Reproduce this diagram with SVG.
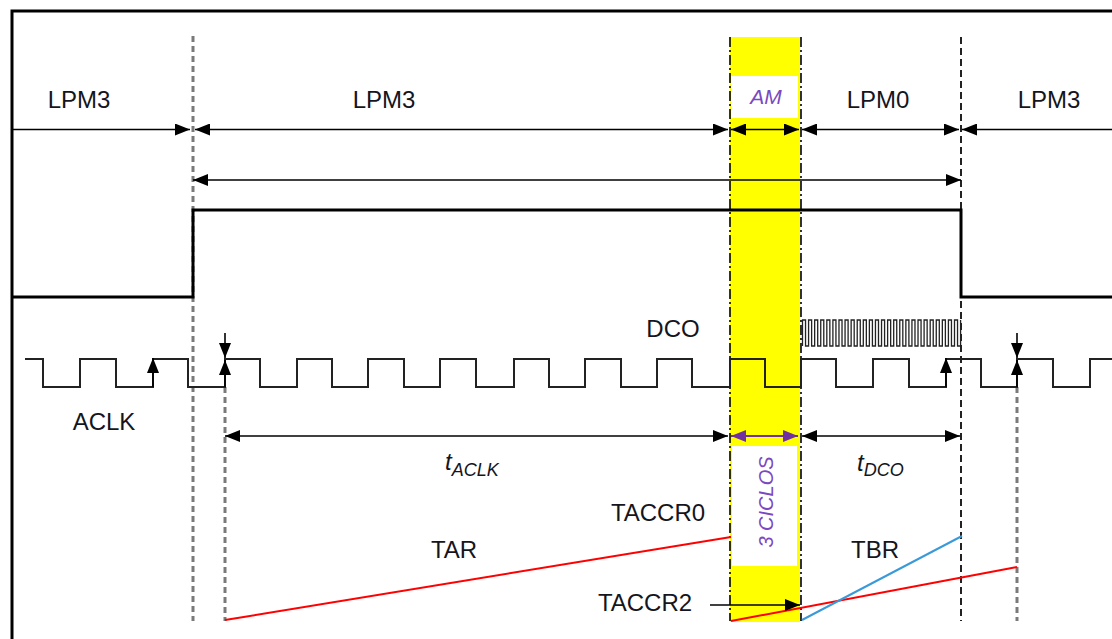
<svg xmlns="http://www.w3.org/2000/svg" width="1112" height="639" viewBox="0 0 1112 639">
<style>
.t{font-family:"Liberation Sans",Arial,sans-serif;font-size:24px;fill:#151520}
.p{font-family:"Liberation Sans",Arial,sans-serif;font-style:italic;fill:#7a48c0}
.it{font-style:italic}
.ar{stroke:#000;stroke-width:1.6;fill:none}
.gd{stroke:#7a7a7a;stroke-width:3;stroke-dasharray:6 4;fill:none}
.bd{stroke:#222;stroke-width:2;stroke-dasharray:7 4;fill:none}
.dd{stroke:#000;stroke-width:1.6;stroke-dasharray:10 3 2 3;fill:none}
.w{stroke:#222;stroke-width:2;fill:none}
</style>
<defs>
<marker id="ah" viewBox="0 0 15 12" markerWidth="15" markerHeight="12" refX="15" refY="6" orient="auto-start-reverse" markerUnits="userSpaceOnUse"><path d="M0,0 L15,6 L0,12 z" fill="#000"/></marker>
<marker id="ap" viewBox="0 0 15 12" markerWidth="15" markerHeight="12" refX="15" refY="6" orient="auto-start-reverse" markerUnits="userSpaceOnUse"><path d="M0,0 L15,6 L0,12 z" fill="#7030a0"/></marker>
</defs>
<rect width="1112" height="639" fill="#fff"/>
<rect x="12" y="11" width="1110" height="650" fill="none" stroke="#000" stroke-width="3"/>
<g id="am-band">
<rect x="730" y="37" width="70" height="585" fill="#ffff00"/>
<rect x="731" y="76" width="67" height="42" fill="#fff"/>
<rect x="732" y="446" width="65" height="120" fill="#fff"/>
</g>
<g id="guides">
<line class="gd" x1="193" y1="36" x2="193" y2="621"/>
<line class="gd" x1="225" y1="387" x2="225" y2="621"/>
<line class="dd" x1="730" y1="37" x2="730" y2="621"/>
<line class="dd" x1="801" y1="37" x2="801" y2="621"/>
<line class="bd" x1="961" y1="37" x2="961" y2="621"/>
<line class="gd" x1="1017" y1="387" x2="1017" y2="621"/>
</g>
<g id="power-signal">
<path d="M12,297 H193 V210 H961 V297 H1112" stroke="#000" stroke-width="3" fill="none"/>
</g>
<g id="aclk">
<path class="w" d="M25,359 H43 V387 H80 V359 H116 V387 H153 V359 H188 V387 H225 V359 H260 V387 H297 V359 H332 V387 H368 V359 H404 V387 H440 V359 H476 V387 H514 V359 H549 V387 H585 V359 H621 V387 H657 V359 H692 V387 H730 V359 H765 V387 H801 V359 H836 V387 H873 V359 H909 V387 H946 V359 H981 V387 H1017 V359 H1053 V387 H1090 V359 H1112"/>
<text class="t" x="104" y="430" text-anchor="middle">ACLK</text>
</g>
<g id="dco">
<path stroke="#222" stroke-width="1.3" fill="none" d="M802.5,346 V320 h3.04v26h3.04v-26h3.04v26h3.04v-26h3.04v26h3.04v-26h3.04v26h3.04v-26h3.04v26h3.04v-26
h3.04v26h3.04v-26h3.04v26h3.04v-26h3.04v26h3.04v-26h3.04v26h3.04v-26h3.04v26h3.04v-26
h3.04v26h3.04v-26h3.04v26h3.04v-26h3.04v26h3.04v-26h3.04v26h3.04v-26h3.04v26h3.04v-26
h3.04v26h3.04v-26h3.04v26h3.04v-26h3.04v26h3.04v-26h3.04v26h3.04v-26h3.04v26h3.04v-26
h3.04v26h3.04v-26h3.04v26h3.04v-26h3.04v26h3.04v-26h3.04v26h3.04v-26h3.04v26h3.04v-26
h3.04v26h3.04v-26"/>
<text class="t" x="673" y="337" text-anchor="middle">DCO</text>
</g>
<g id="mode-labels">
<text class="t" x="79" y="108" text-anchor="middle">LPM3</text>
<text class="t" x="384" y="108" text-anchor="middle">LPM3</text>
<text class="p" x="766" y="104" font-size="21" text-anchor="middle">AM</text>
<text class="t" x="878" y="108" text-anchor="middle">LPM0</text>
<text class="t" x="1049" y="108" text-anchor="middle">LPM3</text>
</g>
<g id="time-labels">
<text class="t it" x="445" y="470">t<tspan font-size="18" dy="6">ACLK</tspan></text>
<text class="t it" x="857" y="471">t<tspan font-size="18" dy="5">DCO</tspan></text>
<text class="p" font-size="20" text-anchor="middle" transform="translate(773,502) rotate(-90)">3 CICLOS</text>
</g>
<g id="counters">
<line x1="225" y1="620" x2="731" y2="537" stroke="#ff0000" stroke-width="2"/>
<line x1="731" y1="621" x2="1017" y2="567" stroke="#ff0000" stroke-width="2"/>
<line x1="802" y1="620" x2="962" y2="536" stroke="#3a9ad9" stroke-width="2"/>
<text class="t" x="454" y="558" text-anchor="middle">TAR</text>
<text class="t" x="875" y="558" text-anchor="middle">TBR</text>
<text class="t" x="658" y="521" text-anchor="middle">TACCR0</text>
<text class="t" x="645" y="611" text-anchor="middle">TACCR2</text>
</g>
<g id="connectors">
<line class="ar" x1="12" y1="129.5" x2="190" y2="129.5" marker-end="url(#ah)"/>
<line class="ar" x1="195" y1="129.5" x2="728" y2="129.5" marker-start="url(#ah)" marker-end="url(#ah)"/>
<line class="ar" x1="731" y1="129.5" x2="799" y2="129.5" marker-start="url(#ah)" marker-end="url(#ah)"/>
<line class="ar" x1="802" y1="129.5" x2="959" y2="129.5" marker-start="url(#ah)" marker-end="url(#ah)"/>
<line class="ar" x1="962" y1="129.5" x2="1112" y2="129.5" marker-start="url(#ah)"/>
<line class="ar" x1="193" y1="180" x2="961" y2="180" marker-start="url(#ah)" marker-end="url(#ah)"/>
<line class="ar" x1="225" y1="436" x2="728" y2="436" marker-start="url(#ah)" marker-end="url(#ah)"/>
<line x1="731" y1="436" x2="798" y2="436" stroke="#7030a0" stroke-width="2" marker-start="url(#ap)" marker-end="url(#ap)"/>
<line class="ar" x1="802" y1="436" x2="960" y2="436" marker-start="url(#ah)" marker-end="url(#ah)"/>
<line class="ar" x1="710" y1="605" x2="800" y2="605" marker-end="url(#ah)"/>
<line class="ar" x1="153" y1="387" x2="153" y2="358" marker-end="url(#ah)"/>
<line class="ar" x1="225" y1="333" x2="225" y2="358" marker-end="url(#ah)"/>
<line class="ar" x1="225" y1="387" x2="225" y2="360" marker-end="url(#ah)"/>
<line class="ar" x1="946" y1="387" x2="946" y2="358" marker-end="url(#ah)"/>
<line class="ar" x1="1017" y1="333" x2="1017" y2="358" marker-end="url(#ah)"/>
<line class="ar" x1="1017" y1="387" x2="1017" y2="360" marker-end="url(#ah)"/>
</g>
</svg>
